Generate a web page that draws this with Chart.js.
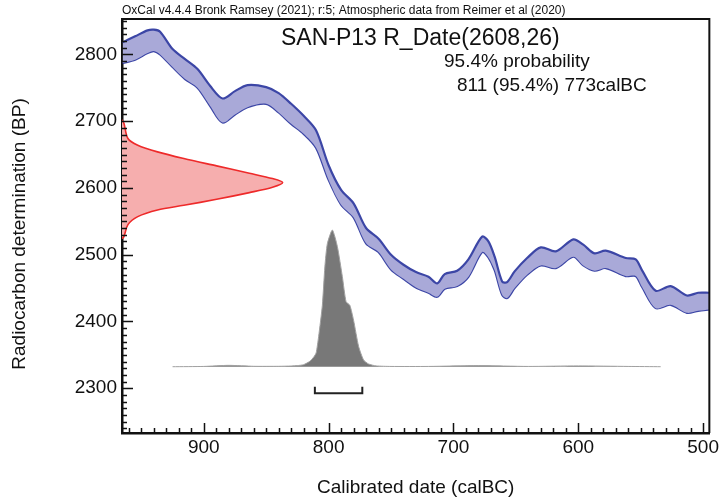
<!DOCTYPE html>
<html>
<head>
<meta charset="utf-8">
<script src="https://cdn.jsdelivr.net/npm/chart.js@4.4.0/dist/chart.umd.min.js"></script>
<style>
  html, body { margin: 0; padding: 0; background: #fff; }
  #wrap { width: 722px; height: 497px; }
</style>
</head>
<body>
<div id="wrap"><canvas id="calChart"></canvas></div>
<script>
// calibration curve band (upper / lower edge)
const curveDates = [965, 955, 945, 940, 935, 925, 915, 905, 895, 885, 875, 865, 850, 840, 830, 820, 810, 800, 790, 780,
  770, 760, 750, 740, 730, 720, 713, 707, 697, 688, 677, 672, 667, 661, 657, 651, 641, 630, 618, 604,
  596, 587, 578, 562, 554, 549, 538, 526, 513, 504, 495];
const curveUpper = [2818, 2827, 2836, 2837, 2834, 2808, 2793, 2778, 2753, 2734, 2745, 2754, 2751, 2742, 2726, 2708, 2686, 2634, 2597, 2577,
  2540, 2524, 2500, 2485, 2474, 2467, 2457, 2471, 2476, 2493, 2527, 2520, 2497, 2460, 2459, 2475, 2495, 2511, 2505, 2523,
  2515, 2502, 2506, 2495, 2493, 2477, 2446, 2453, 2439, 2443, 2443];
const curveLower = [2787, 2792, 2802, 2805, 2800, 2781, 2763, 2750, 2723, 2698, 2710, 2721, 2726, 2713, 2696, 2681, 2660, 2612, 2575, 2556,
  2517, 2504, 2478, 2464, 2451, 2443, 2437, 2449, 2453, 2467, 2504, 2496, 2477, 2440, 2435, 2450, 2470, 2484, 2480, 2497,
  2484, 2476, 2480, 2468, 2468, 2452, 2420, 2425, 2413, 2416, 2418];

// radiocarbon measurement R_Date(2608,26), relative density
const rdateBP = [2702, 2697, 2674, 2664, 2654, 2644, 2633, 2622, 2614, 2608, 2601, 2593, 2583, 2574, 2567, 2557, 2545, 2527, 2524];
const rdateProb = [0, 0.012, 0.037, 0.098, 0.221, 0.385, 0.589, 0.793, 0.937, 1.0, 0.937, 0.793, 0.589, 0.385, 0.221, 0.098, 0.037, 0.012, 0];

// calibrated posterior, relative density
const postDates = [925, 900, 880, 860, 840, 830, 825, 820, 815, 812, 810, 808, 805, 803, 801, 797, 793, 789, 786, 783,
  780, 776, 772, 768, 762, 750, 720, 680, 640, 600, 560, 534];
const postProb = [0, 0.002, 0.01, 0.003, 0.003, 0.005, 0.008, 0.015, 0.04, 0.07, 0.1, 0.22, 0.45, 0.73, 0.9, 1.0, 0.88, 0.66, 0.475, 0.45,
  0.34, 0.15, 0.05, 0.02, 0.006, 0.002, 0.002, 0.008, 0.002, 0.006, 0.002, 0];

// 95.4% range
const rangeFrom = 811;
const rangeTo = 773;

const FONT = "'Liberation Sans', Arial, sans-serif";
const INK = '#111';

const toXY = (xs, ys) => xs.map((v, i) => ({x: v, y: ys[i]}));

const tickPlugin = {
    id: 'oxcalTicks',
    afterDraw(chart) {
        const {ctx, chartArea: a} = chart;
        const x = chart.scales.x, y = chart.scales.y;
        ctx.save();
        ctx.strokeStyle = INK;
        ctx.lineWidth = 1.5;
        ctx.beginPath();
        for (let v = Math.ceil(x.min / 10) * 10; v <= x.max; v += 10) {
            const px = Math.round(x.getPixelForValue(v)) + 0.5;
            const len = v % 100 === 0 ? 10 : 5;
            ctx.moveTo(px, a.bottom);
            ctx.lineTo(px, a.bottom - len);
        }
        for (let v = Math.ceil(y.min / 10) * 10; v <= y.max; v += 10) {
            const py = Math.round(y.getPixelForValue(v)) + 0.5;
            const len = v % 100 === 0 ? 11 : 5;
            ctx.moveTo(a.left, py);
            ctx.lineTo(a.left + len, py);
        }
        ctx.stroke();

        // top and right edge of the frame
        ctx.lineWidth = 2;
        ctx.beginPath();
        ctx.moveTo(a.left, a.top);
        ctx.lineTo(a.right, a.top);
        ctx.lineTo(a.right, a.bottom);
        ctx.stroke();

        // texts
        ctx.fillStyle = INK;
        ctx.textBaseline = 'alphabetic';
        ctx.textAlign = 'left';
        ctx.font = '12px ' + FONT;
        ctx.fillText('OxCal v4.4.4 Bronk Ramsey (2021); r:5; Atmospheric data from Reimer et al (2020)', 122, 14);
        ctx.font = '23px ' + FONT;
        ctx.fillText('SAN-P13 R_Date(2608,26)', 281, 45);
        ctx.font = '19px ' + FONT;
        ctx.fillText('95.4% probability', 444, 67);
        ctx.fillText(rangeFrom + ' (95.4%) ' + rangeTo + 'calBC', 457, 91);

        // y axis title
        ctx.save();
        ctx.translate(20, 234);
        ctx.rotate(-Math.PI / 2);
        ctx.textAlign = 'center';
        ctx.textBaseline = 'middle';
        ctx.fillText('Radiocarbon determination (BP)', 0, 0);
        ctx.restore();
        ctx.restore();
    }
};

new Chart(document.getElementById('calChart'), {
    type: 'line',
    data: {
        datasets: [
            {
                // bracket under the posterior
                data: [{x: rangeFrom, y: -0.146}, {x: rangeFrom, y: -0.195}, {x: rangeTo, y: -0.195}, {x: rangeTo, y: -0.146}],
                yAxisID: 'yProb',
                borderColor: '#222',
                borderWidth: 2,
                pointRadius: 0,
                fill: false
            },
            {
                data: toXY(rdateProb, rdateBP),
                xAxisID: 'xRed',
                indexAxis: 'y',
                borderColor: '#ee2a2a',
                backgroundColor: '#f6aeae',
                borderWidth: 1.6,
                pointRadius: 0,
                tension: 0.3,
                fill: 'shape'
            },
            {
                data: toXY(curveDates, curveUpper),
                borderColor: '#3c46a6',
                backgroundColor: '#a9a9d8',
                borderWidth: 2.2,
                pointRadius: 0,
                tension: 0.3,
                fill: '+1'
            },
            {
                data: toXY(curveDates, curveLower),
                borderColor: '#3c46a6',
                borderWidth: 2.2,
                pointRadius: 0,
                tension: 0.3,
                fill: false
            },
            {
                data: toXY(postDates, postProb),
                yAxisID: 'yProb',
                borderColor: '#a0a0a0',
                backgroundColor: '#787878',
                borderWidth: 1,
                pointRadius: 0,
                tension: 0.2,
                fill: 'origin'
            }
        ]
    },
    options: {
        responsive: true,
        maintainAspectRatio: false,
        animation: false,
        layout: {padding: {top: 19, right: 4, left: 0, bottom: 0}},
        plugins: {legend: {display: false}, tooltip: {enabled: false}},
        scales: {
            x: {
                type: 'linear',
                reverse: true,
                min: 495,
                max: 965.5,
                z: 1,
                afterFit: s => { s.height = 64; },
                grid: {display: false, drawTicks: false},
                border: {display: true, color: INK, width: 2.5},
                ticks: {
                    stepSize: 100, includeBounds: false, autoSkip: false, maxRotation: 0,
                    padding: 3, color: INK, font: {family: FONT, size: 19},
                    callback: v => String(v)
                },
                title: {display: true, text: 'Calibrated date (calBC)', color: INK,
                    font: {family: FONT, size: 19, lineHeight: 1}, padding: {top: 0, bottom: 0}}
            },
            xRed: {type: 'linear', display: false, min: 0, max: 3.656},
            y: {
                type: 'linear',
                min: 2233,
                max: 2853,
                z: 1,
                afterFit: s => { s.width = 122; },
                grid: {display: false, drawTicks: false},
                border: {display: true, color: INK, width: 2.5},
                ticks: {
                    stepSize: 100, includeBounds: false, autoSkip: false,
                    padding: 5, color: INK, font: {family: FONT, size: 19},
                    callback: v => String(v)
                }
            },
            yProb: {type: 'linear', display: false, min: -0.485, max: 2.544}
        }
    },
    plugins: [tickPlugin]
});
</script>
</body>
</html>
